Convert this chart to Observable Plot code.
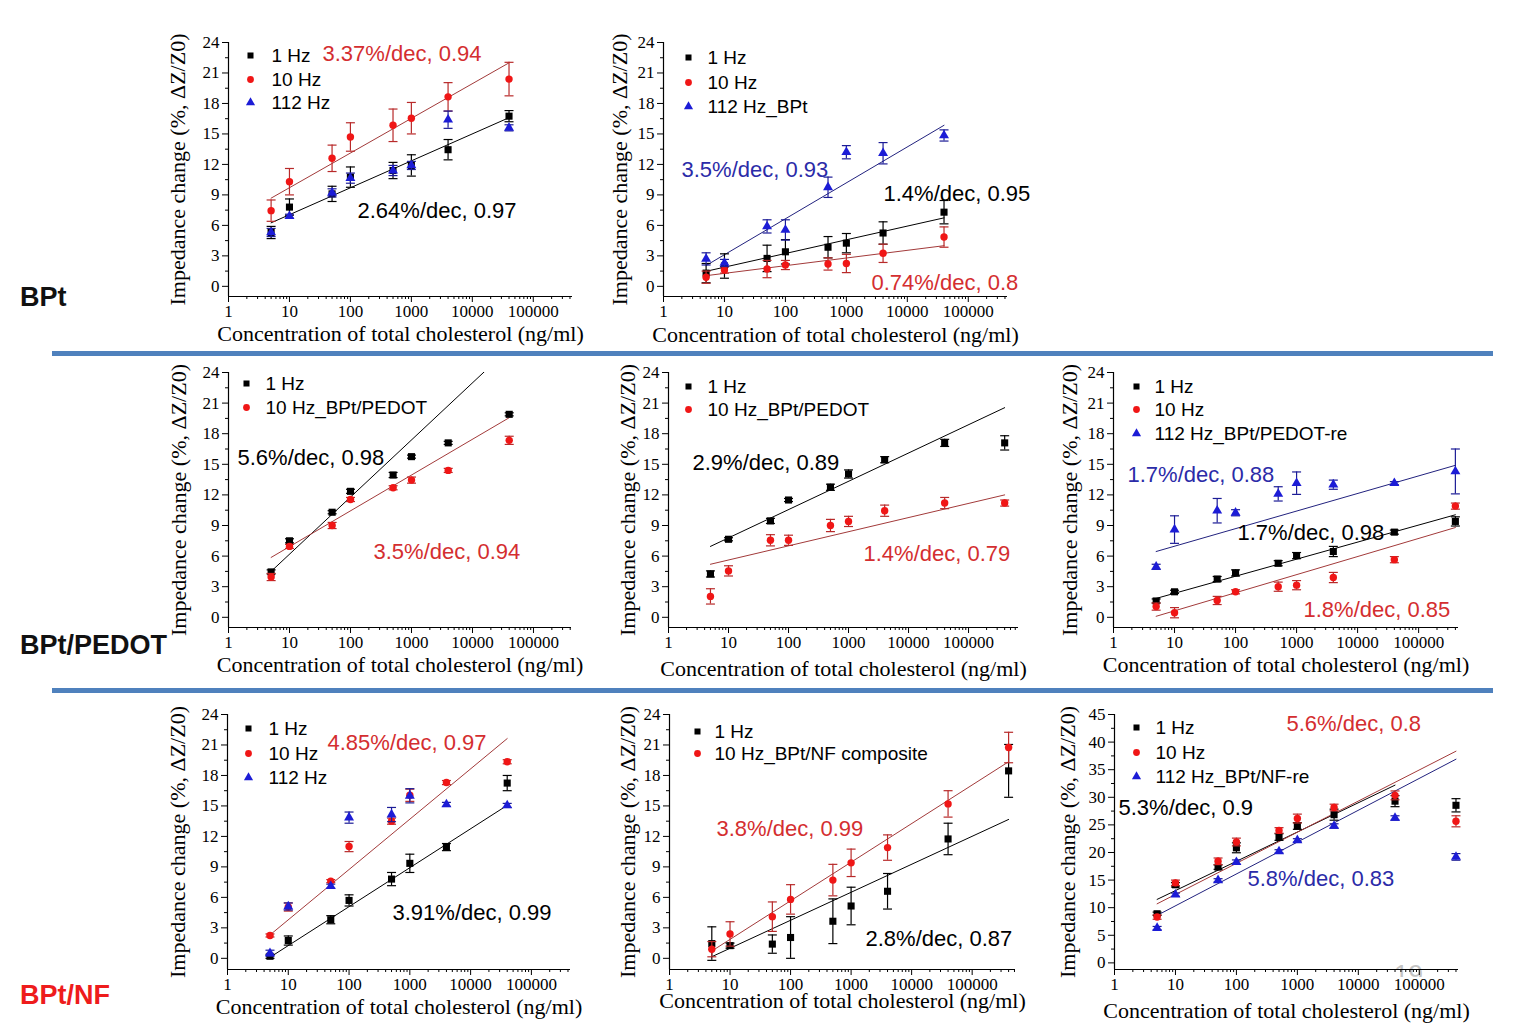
<!DOCTYPE html>
<html><head><meta charset="utf-8">
<script src="https://cdn.jsdelivr.net/npm/d3@7"></script>
<script src="https://cdn.jsdelivr.net/npm/@observablehq/plot@0.6"></script>
<style>
body{margin:0;background:#fff;}
#page{position:relative;width:1530px;height:1032px;overflow:hidden;background:#fff;}
.panel{position:absolute;}
.panel svg{overflow:visible;max-width:none;background:transparent;}
.rowlabel{position:absolute;left:20px;font-family:"Liberation Sans",Arial,sans-serif;font-weight:bold;font-size:27px;line-height:27px;white-space:nowrap;}
.sep{position:absolute;left:52px;width:1441px;height:5px;background:#4f81bd;}
#pgnum{position:absolute;left:1394px;top:962px;width:34px;height:15px;overflow:hidden;}
#pgnum span{position:absolute;top:-3px;left:0;font-family:"Liberation Sans",Arial,sans-serif;font-size:26px;color:#c4c4c4;}
</style></head><body><div id="page"></div>
<script>
// ---------- shared axis data ----------
const conc8 = [5, 10, 50, 100, 500, 1000, 4000, 40000];
const conc9 = [5, 10, 50, 100, 500, 1000, 4000, 40000, 400000];
const fitX8 = [5, 40000];
const fitX9 = [5, 400000];
const xTickValues = [1, 10, 100, 1000, 10000, 100000];
const xTickLabels = ["1", "10", "100", "1000", "10000", "100000"];
const yTicks24 = [0, 3, 6, 9, 12, 15, 18, 21, 24];
const yTicks45 = [0, 5, 10, 15, 20, 25, 30, 35, 40, 45];
const rowLabels = ["BPt", "BPt/PEDOT", "BPt/NF"];
const xTitle = "Concentration of total cholesterol (ng/ml)";
const yTitle = "Impedance change (%, \u0394Z/Z0)";

// ---------- Panel 1: BPt ----------
const p1_legend = ["1 Hz", "10 Hz", "112 Hz"];
const p1_1Hz = [5.3, 7.8, 9.1, 10.75, 11.4, 11.9, 13.45, 16.75];
const p1_1Hz_err = [0.6, 0.8, 0.75, 1.0, 0.8, 1.05, 1.0, 0.55];
const p1_10Hz = [7.45, 10.3, 12.6, 14.7, 15.85, 16.55, 18.65, 20.4];
const p1_10Hz_err = [1.05, 1.3, 1.3, 1.4, 1.6, 1.55, 1.4, 1.65];
const p1_112Hz = [5.3, 6.9, 9.2, 10.65, 11.4, 11.9, 16.4, 15.6];
const p1_112Hz_err = [0.4, 0.2, 0.4, 0.5, 0.5, 0.4, 0.85, 0.3];
const p1_fit_1Hz = [6.25, 16.6];
const p1_fit_10Hz = [8.68, 22.0];
const p1_notes = ["3.37%/dec, 0.94", "2.64%/dec, 0.97"];

// ---------- Panel 2: BPt ----------
const p2_legend = ["1 Hz", "10 Hz", "112 Hz_BPt"];
const p2_1Hz = [1.3, 2.0, 2.75, 3.4, 3.85, 4.25, 5.25, 7.3];
const p2_1Hz_err = [0.95, 1.2, 1.3, 1.2, 1.05, 0.95, 1.1, 1.15];
const p2_10Hz = [0.9, 1.6, 1.7, 2.1, 2.2, 2.25, 3.25, 4.85];
const p2_10Hz_err = [0.6, 0.3, 0.85, 0.45, 0.6, 0.9, 0.9, 1.0];
const p2_112Hz = [2.7, 2.3, 5.9, 5.55, 9.75, 13.2, 13.1, 14.85];
const p2_112Hz_err = [0.6, 0.35, 0.65, 1.0, 1.0, 0.65, 1.05, 0.55];
const p2_fit_1Hz = [1.48, 6.74];
const p2_fit_10Hz = [1.05, 4.0];
const p2_fit_112Hz = [2.05, 15.85];
const p2_notes = ["3.5%/dec, 0.93", "1.4%/dec, 0.95", "0.74%/dec, 0.8"];

// ---------- Panel 3: BPt/PEDOT ----------
const p3_legend = ["1 Hz", "10 Hz_BPt/PEDOT"];
const p3_1Hz = [4.45, 7.5, 10.3, 12.35, 13.95, 15.75, 17.1, 19.9];
const p3_1Hz_err = [0.2, 0.2, 0.15, 0.2, 0.25, 0.15, 0.15, 0.15];
const p3_10Hz = [3.95, 6.95, 9.0, 11.55, 12.7, 13.45, 14.4, 17.35];
const p3_10Hz_err = [0.35, 0.2, 0.3, 0.2, 0.2, 0.3, 0.2, 0.4];
const p3_fit_1Hz = [4.5, 26.36];
const p3_fit_10Hz = [5.87, 19.57];
const p3_notes = ["5.6%/dec, 0.98", "3.5%/dec, 0.94"];

// ---------- Panel 4: BPt/PEDOT ----------
const p4_legend = ["1 Hz", "10 Hz_BPt/PEDOT"];
const p4_1Hz = [4.25, 7.65, 9.45, 11.5, 12.75, 14.05, 15.45, 17.1, 17.1];
const p4_1Hz_err = [0.3, 0.15, 0.25, 0.15, 0.3, 0.4, 0.3, 0.35, 0.7];
const p4_10Hz = [2.05, 4.55, 7.55, 7.55, 9.0, 9.4, 10.45, 11.2, 11.2];
const p4_10Hz_err = [0.75, 0.5, 0.55, 0.5, 0.6, 0.5, 0.55, 0.55, 0.3];
const p4_fit_1Hz = [6.95, 20.55];
const p4_fit_10Hz = [5.2, 12.0];
const p4_notes = ["2.9%/dec, 0.89", "1.4%/dec, 0.79"];

// ---------- Panel 5: BPt/PEDOT ----------
const p5_legend = ["1 Hz", "10 Hz", "112 Hz_BPt/PEDOT-re"];
const p5_1Hz = [1.6, 2.5, 3.75, 4.35, 5.3, 6.05, 6.45, 8.35, 9.4];
const p5_1Hz_err = [0.2, 0.15, 0.25, 0.3, 0.25, 0.3, 0.5, 0.2, 0.45];
const p5_10Hz = [1.05, 0.45, 1.65, 2.5, 3.0, 3.15, 3.9, 5.65, 10.9];
const p5_10Hz_err = [0.35, 0.5, 0.4, 0.2, 0.45, 0.45, 0.5, 0.3, 0.3];
const p5_112Hz = [4.95, 8.6, 10.45, 10.25, 12.1, 13.15, 13.0, 13.15, 14.3];
const p5_112Hz_err = [0.25, 1.35, 1.2, 0.3, 0.7, 1.1, 0.45, 0.15, 2.2];
const p5_fit_1Hz = [1.85, 10.05];
const p5_fit_10Hz = [0.1, 8.8];
const p5_fit_112Hz = [6.45, 14.9];
const p5_notes = ["1.7%/dec, 0.88", "1.7%/dec, 0.98", "1.8%/dec, 0.85"];

// ---------- Panel 6: BPt/NF ----------
const p6_legend = ["1 Hz", "10 Hz", "112 Hz"];
const p6_1Hz = [0.2, 1.75, 3.8, 5.7, 7.8, 9.35, 10.95, 17.25];
const p6_1Hz_err = [0.2, 0.45, 0.4, 0.55, 0.65, 0.9, 0.35, 0.75];
const p6_10Hz = [2.25, 5.05, 7.6, 11.0, 13.5, 16.05, 17.3, 19.35];
const p6_10Hz_err = [0.15, 0.4, 0.15, 0.5, 0.3, 0.6, 0.2, 0.2];
const p6_112Hz = [0.5, 5.1, 7.1, 13.85, 14.15, 16.0, 15.15, 15.05];
const p6_112Hz_err = [0.3, 0.35, 0.2, 0.55, 0.7, 0.7, 0.2, 0.2];
const p6_fit_1Hz = [0.1, 15.06];
const p6_fit_10Hz = [2.3, 21.63];
const p6_notes = ["4.85%/dec, 0.97", "3.91%/dec, 0.99"];

// ---------- Panel 7: BPt/NF ----------
const p7_legend = ["1 Hz", "10 Hz_BPt/NF composite"];
const p7_1Hz = [1.45, 1.25, 1.4, 2.05, 3.65, 5.15, 6.6, 11.75, 18.45];
const p7_1Hz_err = [1.65, 0.25, 0.9, 2.05, 2.2, 1.85, 1.75, 1.55, 2.6];
const p7_10Hz = [0.9, 2.4, 4.1, 5.8, 7.7, 9.4, 10.9, 15.2, 20.75];
const p7_10Hz_err = [0.75, 1.2, 1.45, 1.45, 1.55, 1.35, 1.25, 1.3, 1.5];
const p7_fit_1Hz = [0.16, 13.67];
const p7_fit_10Hz = [0.72, 19.35];
const p7_notes = ["3.8%/dec, 0.99", "2.8%/dec, 0.87"];

// ---------- Panel 8: BPt/NF ----------
const p8_legend = ["1 Hz", "10 Hz", "112 Hz_BPt/NF-re"];
const p8_1Hz = [8.9, 14.15, 17.35, 20.85, 22.8, 24.8, 26.85, 29.3, 28.55];
const p8_1Hz_err = [0.3, 0.4, 0.4, 0.9, 0.6, 0.6, 1.0, 1.0, 1.2];
const p8_10Hz = [8.3, 14.5, 18.4, 21.9, 24.0, 26.15, 28.15, 30.35, 25.65];
const p8_10Hz_err = [0.4, 0.5, 0.6, 0.7, 0.5, 0.8, 0.6, 0.8, 1.0];
const p8_112Hz = [6.3, 12.35, 14.95, 18.25, 20.2, 22.2, 24.8, 26.25, 19.2];
const p8_112Hz_err = [0.3, 0.3, 0.3, 0.4, 0.3, 0.3, 0.4, 0.4, 0.6];
const p8_fit_1Hz = [11.5, 32.2];
const p8_fit_10Hz = [10.7, 38.35];
const p8_fit_112Hz = [8.6, 36.9];
const p8_notes = ["5.6%/dec, 0.8", "5.3%/dec, 0.9", "5.8%/dec, 0.83"];

// ---------- styles ----------
const styles = {
  k: {symbol: "square", fill: "#000000", err: "#000000", line: "#000000", text: "#000000", r: 4},
  r: {symbol: "circle", fill: "#f01616", err: "#b82a2a", line: "#a23a3a", text: "#d42e30", r: 3.7},
  b: {symbol: "triangle", fill: "#1c1cd6", err: "#1c1c96", line: "#22227e", text: "#2b2ba8", r: 3.7}
};
const capSymbol = {draw(ctx, size) { const w = Math.sqrt(size / Math.PI); ctx.moveTo(-w, 0); ctx.lineTo(w, 0); }};
const serif = "Liberation Serif, Times New Roman, serif";
const sans = "Liberation Sans, Arial, sans-serif";

// ---------- panel layouts ----------
const panels = [
  {x0: 228, x1: 572, yTop: 42, yBot: 296, xMax: 440000, yMin: -1, yMax: 24, yTicks: yTicks24, ylabDx: -51, xlabDy: 37,
   series: [["k", conc8, p1_1Hz, p1_1Hz_err], ["r", conc8, p1_10Hz, p1_10Hz_err], ["b", conc8, p1_112Hz, p1_112Hz_err]],
   fits: [["k", fitX8, p1_fit_1Hz], ["r", fitX8, p1_fit_10Hz]],
   legend: p1_legend, legKeys: ["k", "r", "b"], legDx: [22, 43], legDy: [13, 37, 60],
   notes: p1_notes, noteKeys: ["r", "k"], notePos: [[94, 11], [129, 168]]},
  {x0: 663, x1: 1007, yTop: 42, yBot: 296, xMax: 440000, yMin: -1, yMax: 24, yTicks: yTicks24, ylabDx: -44, xlabDy: 38,
   series: [["k", conc8, p2_1Hz, p2_1Hz_err], ["r", conc8, p2_10Hz, p2_10Hz_err], ["b", conc8, p2_112Hz, p2_112Hz_err]],
   fits: [["k", fitX8, p2_fit_1Hz], ["r", fitX8, p2_fit_10Hz], ["b", fitX8, p2_fit_112Hz]],
   legend: p2_legend, legKeys: ["k", "r", "b"], legDx: [25, 44], legDy: [15, 40, 64],
   notes: p2_notes, noteKeys: ["b", "k", "r"], notePos: [[18, 127], [220, 151], [208, 240]]},
  {x0: 228, x1: 571, yTop: 372, yBot: 627, xMax: 420000, yMin: -1, yMax: 24, yTicks: yTicks24, ylabDx: -50, xlabDy: 37,
   series: [["k", conc8, p3_1Hz, p3_1Hz_err], ["r", conc8, p3_10Hz, p3_10Hz_err]],
   fits: [["k", fitX8, p3_fit_1Hz], ["r", fitX8, p3_fit_10Hz]],
   legend: p3_legend, legKeys: ["k", "r"], legDx: [18, 37], legDy: [11, 35],
   notes: p3_notes, noteKeys: ["k", "r"], notePos: [[9, 85], [145, 179]]},
  {x0: 668, x1: 1018, yTop: 372, yBot: 627, xMax: 680000, yMin: -1, yMax: 24, yTicks: yTicks24, ylabDx: -41, xlabDy: 41,
   series: [["k", conc9, p4_1Hz, p4_1Hz_err], ["r", conc9, p4_10Hz, p4_10Hz_err]],
   fits: [["k", fitX9, p4_fit_1Hz], ["r", fitX9, p4_fit_10Hz]],
   legend: p4_legend, legKeys: ["k", "r"], legDx: [20, 39], legDy: [14, 37],
   notes: p4_notes, noteKeys: ["k", "r"], notePos: [[24, 90], [195, 181]]},
  {x0: 1113, x1: 1458, yTop: 372, yBot: 627, xMax: 450000, yMin: -1, yMax: 24, yTicks: yTicks24, ylabDx: -44, xlabDy: 37,
   series: [["k", conc9, p5_1Hz, p5_1Hz_err], ["r", conc9, p5_10Hz, p5_10Hz_err], ["b", conc9, p5_112Hz, p5_112Hz_err]],
   fits: [["k", fitX9, p5_fit_1Hz], ["r", fitX9, p5_fit_10Hz], ["b", fitX9, p5_fit_112Hz]],
   legend: p5_legend, legKeys: ["k", "r", "b"], legDx: [23, 41], legDy: [14, 37, 61],
   notes: p5_notes, noteKeys: ["b", "k", "r"], notePos: [[14, 102], [124, 160], [190, 237]]},
  {x0: 227, x1: 570, yTop: 714, yBot: 969, xMax: 440000, yMin: -1.1, yMax: 24, yTicks: yTicks24, ylabDx: -50, xlabDy: 37,
   series: [["k", conc8, p6_1Hz, p6_1Hz_err], ["r", conc8, p6_10Hz, p6_10Hz_err], ["b", conc8, p6_112Hz, p6_112Hz_err]],
   fits: [["k", fitX8, p6_fit_1Hz], ["r", fitX8, p6_fit_10Hz]],
   legend: p6_legend, legKeys: ["k", "r", "b"], legDx: [21, 41], legDy: [14, 39, 63],
   notes: p6_notes, noteKeys: ["r", "k"], notePos: [[100, 28], [165, 198]]},
  {x0: 669, x1: 1015, yTop: 714, yBot: 969, xMax: 520000, yMin: -1.1, yMax: 24, yTicks: yTicks24, ylabDx: -42, xlabDy: 31,
   series: [["k", conc9, p7_1Hz, p7_1Hz_err], ["r", conc9, p7_10Hz, p7_10Hz_err]],
   fits: [["k", fitX9, p7_fit_1Hz], ["r", fitX9, p7_fit_10Hz]],
   legend: p7_legend, legKeys: ["k", "r"], legDx: [28, 45], legDy: [17, 39],
   notes: p7_notes, noteKeys: ["r", "k"], notePos: [[47, 114], [196, 224]]},
  {x0: 1114, x1: 1458, yTop: 714, yBot: 969, xMax: 440000, yMin: -1.2, yMax: 45, yTicks: yTicks45, ylabDx: -47, xlabDy: 41,
   series: [["k", conc9, p8_1Hz, p8_1Hz_err], ["r", conc9, p8_10Hz, p8_10Hz_err], ["b", conc9, p8_112Hz, p8_112Hz_err]],
   fits: [["k", fitX8, p8_fit_1Hz], ["r", fitX9, p8_fit_10Hz], ["b", fitX9, p8_fit_112Hz]],
   legend: p8_legend, legKeys: ["k", "r", "b"], legDx: [22, 41], legDy: [13, 38, 62],
   notes: p8_notes, noteKeys: ["r", "k", "b"], notePos: [[172, 9], [4, 93], [133, 164]]}
];

const page = document.getElementById("page");

// page number (behind the charts)
const pg = document.createElement("div");
pg.id = "pgnum";
pg.innerHTML = "<span>19</span>";
page.appendChild(pg);

// separators
[351, 688].forEach(t => {
  const d = document.createElement("div");
  d.className = "sep"; d.style.top = t + "px";
  page.appendChild(d);
});

// row labels
const rowTops = [284, 632, 982];
const rowColors = ["#111111", "#111111", "#ee1c1c"];
rowLabels.forEach((t, i) => {
  const d = document.createElement("div");
  d.className = "rowlabel"; d.textContent = t;
  d.style.top = rowTops[i] + "px"; d.style.color = rowColors[i];
  page.appendChild(d);
});

const mL = 80, mR = 20, mT = 24, mB = 56;

panels.forEach(p => {
  const width = p.x1 - p.x0 + mL + mR;
  const height = p.yBot - p.yTop + mT + mB;
  const xMinor = [];
  for (let d = 1; d <= 1e6; d *= 10) for (let m = 2; m <= 9; m++) if (d * m <= p.xMax) xMinor.push(d * m);
  const step = p.yTicks[1] - p.yTicks[0];
  const yMinor = p.yTicks.slice(0, -1).map(v => v + step / 2);

  const marks = [
    Plot.ruleX([1], {stroke: "#000", strokeWidth: 1.2}),
    Plot.ruleY([p.yMin], {stroke: "#000", strokeWidth: 1.2}),
    Plot.axisY(p.yTicks, {tickSize: 6, tickPadding: 3, label: null, fontSize: 17, fontFamily: serif}),
    Plot.axisY(yMinor, {tickSize: 3, tickFormat: () => "", label: null}),
    Plot.axisX(xTickValues, {tickSize: 6, tickPadding: 2, label: null, fontSize: 17, fontFamily: serif,
      tickFormat: v => xTickLabels[xTickValues.indexOf(v)]}),
    Plot.axisX(xMinor, {tickSize: 3, tickFormat: () => "", label: null}),
    Plot.text([yTitle], {frameAnchor: "left", dx: p.ylabDx, rotate: -90, text: d => d, fontFamily: serif, fontSize: 22,
      textAnchor: "middle", lineAnchor: "middle", fill: "#000"}),
    Plot.text([xTitle], {frameAnchor: "bottom", dy: p.xlabDy, text: d => d, fontFamily: serif, fontSize: 22,
      textAnchor: "middle", lineAnchor: "middle", fill: "#000"})
  ];

  p.fits.forEach(([k, xs, ys]) => {
    const data = xs.map((x, i) => ({x, y: ys[i]}));
    marks.push(Plot.line(data, {x: "x", y: "y", stroke: styles[k].line, strokeWidth: 1, clip: true}));
  });

  p.series.forEach(([k, xs, vals, errs]) => {
    const s = styles[k];
    const data = xs.map((x, i) => ({x, y: vals[i], e: errs[i]}));
    marks.push(
      Plot.ruleX(data, {x: "x", y1: d => d.y - d.e, y2: d => d.y + d.e, stroke: s.err, strokeWidth: 1.2}),
      Plot.dot(data, {x: "x", y: d => d.y + d.e, symbol: capSymbol, r: 4.5, fill: "none", stroke: s.err, strokeWidth: 1.2}),
      Plot.dot(data, {x: "x", y: d => d.y - d.e, symbol: capSymbol, r: 4.5, fill: "none", stroke: s.err, strokeWidth: 1.2}),
      Plot.dot(data, {x: "x", y: "y", symbol: s.symbol, r: s.r, fill: s.fill, stroke: "none"})
    );
  });

  p.legend.forEach((label, i) => {
    const s = styles[p.legKeys[i]];
    marks.push(
      Plot.dot([label], {frameAnchor: "top-left", dx: p.legDx[0], dy: p.legDy[i], symbol: s.symbol, r: 3.4, fill: s.fill, stroke: "none"}),
      Plot.text([label], {frameAnchor: "top-left", dx: p.legDx[1], dy: p.legDy[i], text: d => d, textAnchor: "start",
        lineAnchor: "middle", fontFamily: sans, fontSize: 19, fill: "#000"})
    );
  });

  p.notes.forEach((note, i) => {
    const s = styles[p.noteKeys[i]];
    marks.push(Plot.text([note], {frameAnchor: "top-left", dx: p.notePos[i][0], dy: p.notePos[i][1], text: d => d,
      textAnchor: "start", lineAnchor: "middle", fontFamily: sans, fontSize: 22, fill: s.text}));
  });

  const chart = Plot.plot({
    width, height,
    marginLeft: mL, marginRight: mR, marginTop: mT, marginBottom: mB,
    style: {background: "transparent", overflow: "visible", fontFamily: serif, fontSize: "17px", color: "#000"},
    x: {type: "log", domain: [1, p.xMax]},
    y: {domain: [p.yMin, p.yMax]},
    marks
  });
  const div = document.createElement("div");
  div.className = "panel";
  div.style.left = (p.x0 - mL) + "px";
  div.style.top = (p.yTop - mT) + "px";
  div.appendChild(chart);
  page.appendChild(div);
});
</script></body></html>
